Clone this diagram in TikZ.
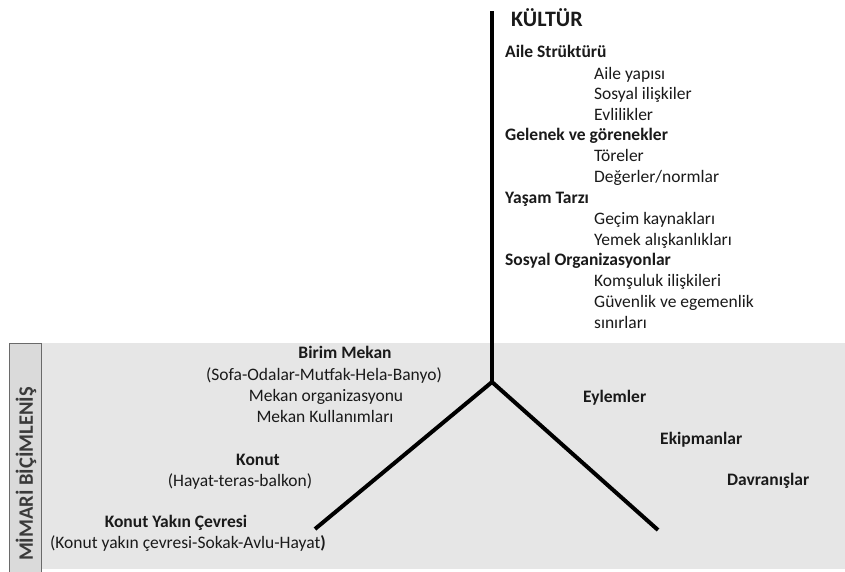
\documentclass[tikz,border=0pt]{standalone}
\usepackage{fontspec}
\setmainfont{Carlito}
\begin{document}
\begin{tikzpicture}[x=1pt,y=-1pt,
  txt/.style={inner sep=0pt,text height=0.72em,text depth=0.22em,font=\fontsize{17.5}{20}\selectfont},
  hd/.style={txt,font=\fontsize{17.5}{20}\selectfont\bfseries},
  lw/.style={txt,anchor=west},
  hw/.style={hd,anchor=west},
  branch/.style={line width=4pt,black}]
\definecolor{bandgray}{HTML}{E6E6E6}
\definecolor{boxgray}{HTML}{DADADA}
\definecolor{boxedge}{HTML}{6A6A6A}
\definecolor{labelgray}{HTML}{3A3A3A}
\definecolor{ink}{HTML}{1A1A1A}
\useasboundingbox (0,0) rectangle (845,572);
\fill[white] (0,0) rectangle (845,572);
% band
\fill[bandgray] (42,343) rectangle (845,569);
% side label box
\fill[boxgray] (9,343) rectangle (41,572);
\draw[boxedge,line width=1pt] (9,572) -- (9,343) -- (41,343) -- (41,572);
\node[rotate=90,inner sep=0pt,font=\fontsize{20.5}{24}\selectfont\bfseries,text=labelgray] (side) at (26,474) {MİMARİ BİÇİMLENİŞ};
% branches
\coordinate (J) at (492,382);
\coordinate (T) at (492,11);
\coordinate (L) at (315,529);
\coordinate (R) at (658,530);
\draw[branch] (J) -- (T);
\draw[branch] (J) -- (L);
\draw[branch] (J) -- (R);
\begin{scope}[every node/.append style={text=ink}]
% Kultur column
\node[anchor=west,inner sep=0pt,font=\fontsize{22}{26}\selectfont\bfseries] (kultur) at (511,18) {KÜLTÜR};
\node[hw] (aile) at (505,55) {Aile Strüktürü};
\node[lw] (a1) at (594,77) {Aile yapısı};
\node[lw] (a2) at (594,97) {Sosyal ilişkiler};
\node[lw] (a3) at (594,118) {Evlilikler};
\node[hw] (gelenek) at (505,138) {Gelenek ve görenekler};
\node[lw] (g1) at (594,159) {Töreler};
\node[lw] (g2) at (594,180) {Değerler/normlar};
\node[hw] (yasam) at (505,201) {Yaşam Tarzı};
\node[lw] (y1) at (594,222) {Geçim kaynakları};
\node[lw] (y2) at (594,243) {Yemek alışkanlıkları};
\node[hw] (sosyal) at (505,263) {Sosyal Organizasyonlar};
\node[lw] (s1) at (594,284) {Komşuluk ilişkileri};
\node[lw] (s2) at (594,305) {Güvenlik ve egemenlik};
\node[lw] (s3) at (594,326) {sınırları};
% left texts
\node[hd] (birim) at (345,356) {Birim Mekan};
\node[txt] (b1) at (324,378) {(Sofa-Odalar-Mutfak-Hela-Banyo)};
\node[txt] (b2) at (326,399) {Mekan organizasyonu};
\node[txt] (b3) at (325,420) {Mekan Kullanımları};
\node[hd] (konut) at (258,463) {Konut};
\node[txt] (k1) at (240,484) {(Hayat-teras-balkon)};
\node[hd] (yakin) at (176,525) {Konut Yakın Çevresi};
\node[txt] (yk1) at (188,546) {(Konut yakın çevresi-Sokak-Avlu-Hayat\textbf{)}};
% right texts
\node[hw] (eylem) at (583,400) {Eylemler};
\node[hw] (ekip) at (660,442) {Ekipmanlar};
\node[hw] (davr) at (727,483) {Davranışlar};
\end{scope}
\end{tikzpicture}
\end{document}
